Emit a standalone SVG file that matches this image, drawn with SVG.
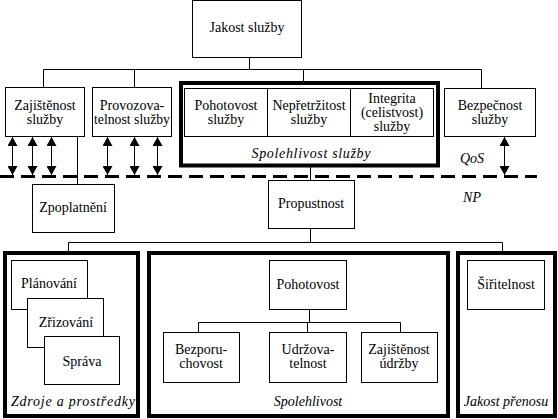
<svg xmlns="http://www.w3.org/2000/svg" width="558" height="419" viewBox="0 0 558 419">
<style>
.b{fill:#fff;stroke:#000;stroke-width:1}
.t{fill:none;stroke:#000;stroke-width:4}
text{font-family:"Liberation Serif","Times New Roman",serif;font-size:14px;fill:#000;text-anchor:middle}
.i{font-style:italic}
.c{stroke:#000;stroke-width:1;fill:none}
</style>
<defs>
<marker id="ah" markerUnits="userSpaceOnUse" markerWidth="10" markerHeight="10" refX="9" refY="5" orient="auto-start-reverse">
<path d="M0,0 L9,5 L0,10 z" fill="#000"/>
</marker>
</defs>
<rect width="558" height="419" fill="#fff"/>
<g id="connectors">
<path class="c" d="M249.5,57 V69.5 M43.5,69.5 H481.5 M43.5,69.5 V87 M134.5,69.5 V87 M303.5,69.5 V81 M481.5,69.5 V88"/>
<path class="c" d="M77.5,136 V184"/>
<path class="c" d="M310.5,167 V180 M310.5,228 V242.5 M68.5,242.5 H502.5 M68.5,242.5 V251 M502.5,242.5 V251"/>
<path class="c" d="M309.5,309 V322.5 M198.5,322.5 H400.5 M198.5,322.5 V332 M307.5,322.5 V332 M400.5,322.5 V332"/>
<line x1="0" y1="176.5" x2="537" y2="176.5" stroke="#000" stroke-width="3" stroke-dasharray="14 7"/>
<g class="c">
<line x1="12.5" y1="137" x2="12.5" y2="175" marker-start="url(#ah)" marker-end="url(#ah)"/>
<line x1="32.5" y1="137" x2="32.5" y2="175" marker-start="url(#ah)" marker-end="url(#ah)"/>
<line x1="51.5" y1="137" x2="51.5" y2="175" marker-start="url(#ah)" marker-end="url(#ah)"/>
<line x1="107.5" y1="137" x2="107.5" y2="175" marker-start="url(#ah)" marker-end="url(#ah)"/>
<line x1="134.5" y1="137" x2="134.5" y2="175" marker-start="url(#ah)" marker-end="url(#ah)"/>
<line x1="157.5" y1="137" x2="157.5" y2="175" marker-start="url(#ah)" marker-end="url(#ah)"/>
<line x1="504.5" y1="137" x2="504.5" y2="175" marker-start="url(#ah)" marker-end="url(#ah)"/>
</g>
</g>
<g id="jakost-sluzby"><rect class="b" x="192.5" y="0.5" width="109" height="57"/><text x="247" y="32">Jakost služby</text></g>
<g id="zajistenost-sluzby"><rect class="b" x="5.5" y="87.5" width="79" height="49"/><text x="45" y="110">Zajištěnost</text><text x="45" y="124">služby</text></g>
<g id="provozovatelnost"><rect class="b" x="92.5" y="87.5" width="79" height="49"/><text x="132" y="110">Provozova-</text><text x="132" y="124" textLength="76" lengthAdjust="spacingAndGlyphs">telnost služby</text></g>
<g id="spolehlivost-sluzby">
<rect class="t" x="181" y="83" width="257" height="82.5"/>
<text class="i" x="311" y="158" textLength="119">Spolehlivost služby</text>
</g>
<g id="pohotovost-sluzby"><rect class="b" x="184.5" y="88.5" width="83" height="48"/><text x="226" y="110">Pohotovost</text><text x="226" y="124">služby</text></g>
<g id="nepretrzitost"><rect class="b" x="267.5" y="88.5" width="83" height="48"/><text x="309" y="110">Nepřetržitost</text><text x="309" y="124">služby</text></g>
<g id="integrita"><rect class="b" x="350.5" y="88.5" width="83" height="48"/><text x="392" y="103">Integrita</text><text x="392" y="117">(celistvost)</text><text x="392" y="131">služby</text></g>
<g id="bezpecnost"><rect class="b" x="444.5" y="88.5" width="91" height="48"/><text x="490" y="110">Bezpečnost</text><text x="490" y="124">služby</text></g>
<g id="labels"><text class="i" x="472" y="163">QoS</text><text class="i" x="472" y="202">NP</text></g>
<g id="zpoplatneni"><rect class="b" x="32.5" y="184.5" width="82" height="48"/><text x="73" y="212">Zpoplatnění</text></g>
<g id="propustnost"><rect class="b" x="268.5" y="180.5" width="86" height="48"/><text x="311" y="208">Propustnost</text></g>
<g id="zdroje">
<rect class="t" x="5" y="253" width="133" height="163"/>
<text class="i" x="73" y="406" textLength="124">Zdroje a prostředky</text>
</g>
<g id="planovani"><rect class="b" x="11.5" y="260.5" width="76" height="49"/><text x="49" y="288">Plánování</text></g>
<g id="zrizovani"><rect class="b" x="27.5" y="298.5" width="76" height="49"/><text x="66" y="327">Zřizování</text></g>
<g id="sprava"><rect class="b" x="44.5" y="336.5" width="75" height="48"/><text x="82" y="366">Správa</text></g>
<g id="spolehlivost">
<rect class="t" x="149" y="253" width="299" height="163"/>
<text class="i" x="308" y="406">Spolehlivost</text>
</g>
<g id="pohotovost"><rect class="b" x="269.5" y="260.5" width="77" height="49"/><text x="308" y="289">Pohotovost</text></g>
<g id="bezporuchovost"><rect class="b" x="163.5" y="332.5" width="76" height="50"/><text x="201" y="354">Bezporu-</text><text x="201" y="368">chovost</text></g>
<g id="udrzovatelnost"><rect class="b" x="269.5" y="332.5" width="77" height="50"/><text x="308" y="354">Udržova-</text><text x="308" y="368">telnost</text></g>
<g id="zajistenost-udrzby"><rect class="b" x="361.5" y="332.5" width="76" height="50"/><text x="399" y="354">Zajištěnost</text><text x="399" y="368">údržby</text></g>
<g id="jakost-prenosu">
<rect class="t" x="458" y="253" width="97" height="163"/>
<text class="i" x="506" y="406">Jakost přenosu</text>
</g>
<g id="siritelnost"><rect class="b" x="467.5" y="260.5" width="77" height="49"/><text x="506" y="289">Šiřitelnost</text></g>
</svg>
